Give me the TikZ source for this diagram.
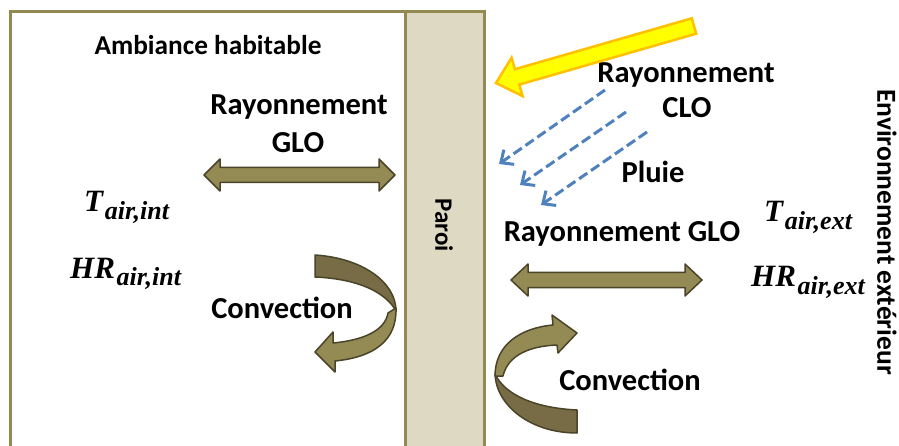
\documentclass[tikz,border=0pt]{standalone}
\usepackage{fontspec}
\setmainfont{Carlito}
\newfontfamily\mathlike{Liberation Serif}
\usetikzlibrary{arrows.meta}
\definecolor{boxline}{HTML}{938953}
\definecolor{parfill}{HTML}{DDD9C3}
\definecolor{arrlight}{HTML}{948A54}
\definecolor{arrdark}{HTML}{776C45}
\definecolor{arrline}{HTML}{4A4429}
\definecolor{sunfill}{HTML}{FFFF00}
\definecolor{sunline}{HTML}{FFC000}
\definecolor{rainblue}{HTML}{4F81BD}
\newcommand{\varlbl}[2]{{\mathlike\bfseries\itshape\fontsize{31}{33}\selectfont #1}\,\raisebox{-8pt}{\mathlike\bfseries\itshape\fontsize{26}{28}\selectfont #2}}
\tikzset{
  lbl/.style={font=\fontsize{30.5}{36}\selectfont\bfseries, inner sep=0pt, anchor=base},
  mathlbl/.style={inner sep=0pt, anchor=base west},
  zone/.style={draw=boxline, line width=3pt},
  glo/.style={fill=arrlight, draw=arrline, line width=1.5pt, line join=round},
  convdark/.style={fill=arrdark, draw=arrline, line width=1.5pt, line join=round},
  convlight/.style={fill=arrlight, draw=arrline, line width=1.5pt, line join=round},
  rain/.style={draw=rainblue, line width=3pt, dash pattern=on 10pt off 4.5pt, -{Straight Barb[length=10pt,width=18pt,line width=3pt]}}
}
\begin{document}
\begin{tikzpicture}[x=1pt,y=-1pt]
\useasboundingbox (0,0) rectangle (899,446);
\begin{scope}
\clip (0,0) rectangle (899,446);
% zones
\path[zone, fill=white] (10,12) rectangle (405,470);
\path[zone, fill=parfill] (405,12) rectangle (484,470);
\end{scope}

% texts left
\node[lbl, font=\fontsize{27.3}{32}\selectfont\bfseries] (amb) at (208,55) {Ambiance habitable};
\node[lbl] (ray1) at (299,115) {Rayonnement};
\node[lbl] (glo1) at (298,153) {GLO};
\node[mathlbl] (tint) at (84,212) {\varlbl{T}{air,int}};
\node[mathlbl] (hrint) at (70,278) {\varlbl{HR}{air,int}};
\node[lbl] (conv1) at (282,318) {Convection};

% wall label
\node[font=\fontsize{25}{28}\selectfont\bfseries, inner sep=0pt, rotate=-90] (paroi) at (444,225) {Paroi};

% right texts
\node[lbl] (ray2) at (686,83) {Rayonnement};
\node[lbl] (clo) at (687,118) {CLO};
\node[lbl] (pluie) at (653,183) {Pluie};
\node[lbl] (ray3) at (622,242) {Rayonnement GLO};
\node[mathlbl] (text) at (764,222) {\varlbl{T}{air,ext}};
\node[mathlbl] (hrext) at (751,287) {\varlbl{HR}{air,ext}};
\node[lbl] (conv2) at (630,390) {Convection};
\node[font=\fontsize{27.5}{32}\selectfont\bfseries, inner sep=0pt, rotate=-90] (env) at (887,232) {Environnement extérieur};

% GLO double arrows
\path[glo] (204,175) -- (220,159) -- (220,167.5) -- (379,167.5) -- (379,159) -- (395,175) -- (379,191) -- (379,182.5) -- (220,182.5) -- (220,191) -- cycle;
\path[glo] (511,280) -- (528,264) -- (528,272.5) -- (685,272.5) -- (685,264) -- (702,280) -- (685,296) -- (685,287.5) -- (528,287.5) -- (528,296) -- cycle;

% sun (CLO) arrow
\path[fill=sunfill, draw=sunline, line width=2.5pt, line join=miter]
  (691.8,18.3) -- (696.2,33.7) -- (519.3,84.6) -- (522.6,96.1) -- (496,83) -- (511.6,57.7) -- (514.9,69.2) -- cycle;

% rain arrows
\coordinate (r1s) at (605,90);  \coordinate (r1e) at (499,164);
\coordinate (r2s) at (626,112); \coordinate (r2e) at (520,185);
\coordinate (r3s) at (647,132); \coordinate (r3e) at (541,205);
\draw[rain] (r1s) -- (r1e);
\draw[rain] (r2s) -- (r2e);
\draw[rain] (r3s) -- (r3e);

% left convection arrow
\path[convdark] (315,255) .. controls (362,258) and (396,282) .. (396,311)
  .. controls (386,293) and (360,279) .. (315,277) -- cycle;
\path[convlight] (396,308) .. controls (397,340) and (375,357) .. (335,361)
  -- (335,372) -- (315,352) -- (333,332) -- (333,343)
  .. controls (365,340) and (385,330) .. (388,313) -- cycle;

% right convection arrow
\path[convdark] (577,433) .. controls (530,433) and (496,405) .. (495,374)
  .. controls (505,395) and (535,408) .. (577,410) -- cycle;
\path[convlight] (495,376) .. controls (495,345) and (520,328) .. (553,325)
  -- (552,315) -- (577,333) -- (558,353) -- (557,345)
  .. controls (530,346) and (508,355) .. (503,376) -- cycle;
\end{tikzpicture}
\end{document}
